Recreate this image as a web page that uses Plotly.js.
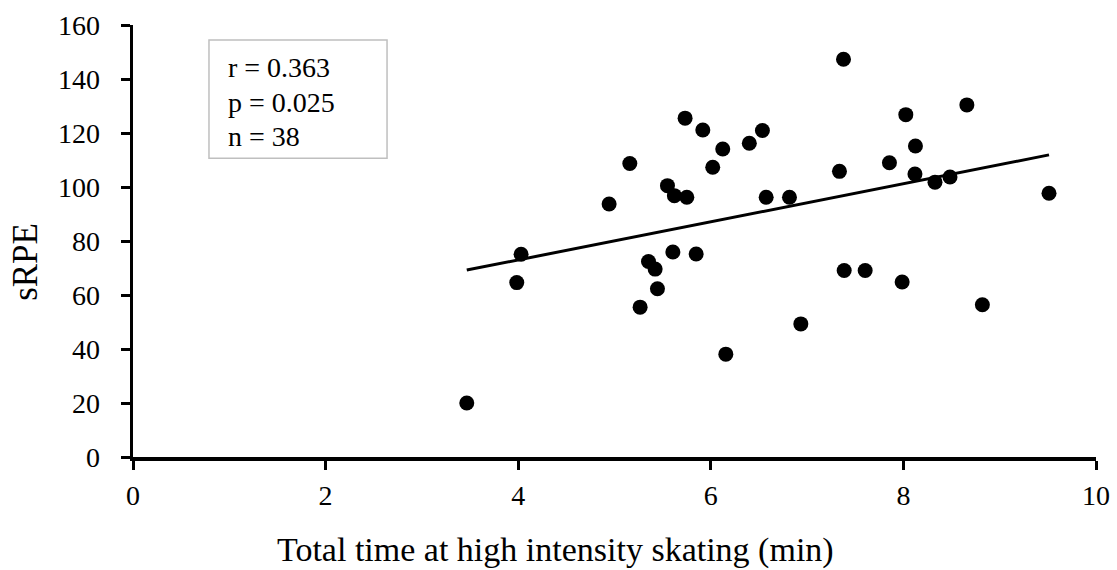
<!DOCTYPE html>
<html>
<head>
<meta charset="utf-8">
<script src="https://cdn.plot.ly/plotly-3.0.1.min.js"></script>
<style>
html,body{margin:0;padding:0;background:#fff;}
#chart{width:1117px;height:570px;}
</style>
</head>
<body>
<div id="chart"></div>
<script>
// Data
const timeMin = [5.733, 5.917, 6.124, 6.020, 6.400, 6.536, 5.159, 4.944, 5.550, 5.622,
                 5.751, 6.575, 6.817, 4.030, 3.985, 5.353, 5.422, 5.606, 5.848, 5.446,
                 5.266, 6.156, 3.466, 6.935,
                 7.378, 8.659, 8.025, 8.125, 7.855, 7.336, 8.120, 8.328, 8.484, 9.512,
                 7.385, 7.603, 7.987, 8.820];
const sRPE    = [125.5, 121.1, 114.1, 107.3, 116.2, 120.9, 108.7, 93.7, 100.5, 96.8,
                 96.2, 96.2, 96.2, 75.1, 64.6, 72.4, 69.6, 75.9, 75.2, 62.3,
                 55.5, 38.1, 20.0, 49.3,
                 147.3, 130.4, 126.8, 115.2, 109.0, 105.8, 104.8, 101.8, 103.7, 97.7,
                 69.1, 69.1, 64.8, 56.4];
const statLines = ['r = 0.363', 'p = 0.025', 'n = 38'];
const xTitle = 'Total time at high intensity skating (min)';
const yTitle = 'sRPE';
const xTicks = [0, 2, 4, 6, 8, 10];
const yTicks = [0, 20, 40, 60, 80, 100, 120, 140, 160];

// least-squares trend line from the data
const n = timeMin.length;
const mx = timeMin.reduce((a, b) => a + b, 0) / n;
const my = sRPE.reduce((a, b) => a + b, 0) / n;
let sxy = 0, sxx = 0;
for (let i = 0; i < n; i++) { sxy += (timeMin[i] - mx) * (sRPE[i] - my); sxx += (timeMin[i] - mx) ** 2; }
const slope = sxy / sxx, intercept = my - slope * mx;
const xmin = Math.min(...timeMin), xmax = Math.max(...timeMin);
const trendX = [xmin, xmax];
const trendY = trendX.map(x => intercept + slope * x);

const FONT = 'Liberation Serif, Times New Roman, serif';

const traces = [
  {x: timeMin, y: sRPE, type: 'scatter', mode: 'markers',
   marker: {color: '#000', size: 15}, hoverinfo: 'x+y'},
  {x: trendX, y: trendY, type: 'scatter', mode: 'lines',
   line: {color: '#000', width: 3}, hoverinfo: 'skip'}
];

const statY = [0.901, 0.821, 0.743];
const annotations = statLines.map((t, i) => ({
  text: t, xref: 'paper', yref: 'paper', x: 0.097, y: statY[i],
  xanchor: 'left', yanchor: 'middle', showarrow: false,
  font: {family: FONT, size: 28, color: '#000'}
}));
annotations.push({
  text: xTitle, xref: 'paper', yref: 'paper', x: 0.439, y: -0.215,
  xanchor: 'center', yanchor: 'middle', showarrow: false,
  font: {family: FONT, size: 34, color: '#000'}
});
annotations.push({
  text: yTitle, xref: 'paper', yref: 'paper', x: -0.111, y: 0.452,
  xanchor: 'center', yanchor: 'middle', showarrow: false, textangle: -90,
  font: {family: FONT, size: 35, color: '#000'}
});

const layout = {
  width: 1117, height: 570,
  margin: {l: 133, r: 21, t: 25, b: 113},
  paper_bgcolor: '#fff', plot_bgcolor: '#fff',
  showlegend: false,
  font: {family: FONT, color: '#000'},
  xaxis: {
    range: [0, 10], tickvals: xTicks, ticktext: xTicks.map(String),
    showgrid: false, zeroline: false,
    showline: true, linecolor: '#000', linewidth: 3.5,
    ticks: 'outside', ticklen: 9, tickwidth: 3, tickcolor: '#000',
    tickfont: {family: FONT, size: 28, color: '#000'}, ticklabelstandoff: 2
  },
  yaxis: {
    range: [0, 160], tickvals: yTicks, ticktext: yTicks.map(String),
    showgrid: false, zeroline: false,
    showline: true, linecolor: '#000', linewidth: 3.5,
    ticks: 'outside', ticklen: 9, tickwidth: 3, tickcolor: '#000',
    tickfont: {family: FONT, size: 28, color: '#000'}, ticklabelstandoff: 15
  },
  shapes: [{
    type: 'rect', xref: 'paper', yref: 'paper',
    x0: 0.0789, x1: 0.2638, y0: 0.6916, y1: 0.9653,
    line: {color: '#bfbfbf', width: 1.5}, fillcolor: 'rgba(0,0,0,0)'
  }],
  annotations: annotations
};

Plotly.newPlot('chart', traces, layout, {displayModeBar: false, staticPlot: true});
</script>
</body>
</html>
